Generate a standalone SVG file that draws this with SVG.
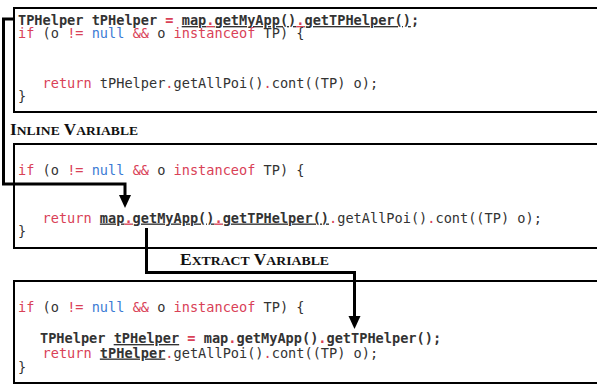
<svg xmlns="http://www.w3.org/2000/svg" width="597" height="385" viewBox="0 0 597 385">
<style>
.code{font-family:"DejaVu Sans Mono",monospace;font-size:13.6px;fill:#333;white-space:pre}
.b{font-weight:bold}
.r{fill:#d94157}
.bl{fill:#3b7bd4}
.u{text-decoration:underline}
.box{fill:#fff;stroke:#000;stroke-width:2}
.lbl{font-family:"Liberation Serif","Times New Roman",serif;font-weight:bold;fill:#111}
.big{font-size:16.5px}
.sm{font-size:13px}
.conn{fill:none;stroke:#000;stroke-width:3}
.head{fill:#000}
</style>
<g id="box1">
<rect class="box" x="14" y="8" width="600" height="104"/>
<text class="code" x="18" y="25" xml:space="preserve"><tspan class="b">TPHelper tPHelper </tspan><tspan class="r b">=</tspan> <tspan class="b u">map</tspan><tspan class="r b u">.</tspan><tspan class="b u">getMyApp()</tspan><tspan class="r b u">.</tspan><tspan class="b u">getTPHelper()</tspan><tspan class="b">;</tspan></text>
<text class="code" x="18" y="38" xml:space="preserve"><tspan class="r">if</tspan> (o <tspan class="r">!=</tspan> <tspan class="bl">null</tspan> <tspan class="r">&amp;&amp;</tspan> o <tspan class="r">instanceof</tspan> TP) {</text>
<text class="code" x="18" y="88" xml:space="preserve">   <tspan class="r">return</tspan> tPHelper<tspan class="r">.</tspan>getAllPoi()<tspan class="r">.</tspan>cont((TP) o);</text>
<text class="code" x="18" y="101" xml:space="preserve">}</text>
</g>
<g id="label-inline">
<text class="lbl" x="10" y="135" textLength="128" lengthAdjust="spacingAndGlyphs"><tspan class="big">I</tspan><tspan class="sm">NLINE</tspan><tspan class="big"> V</tspan><tspan class="sm">ARIABLE</tspan></text>
</g>
<g id="box2">
<rect class="box" x="14" y="144" width="600" height="104"/>
<text class="code" x="18" y="174.5" xml:space="preserve"><tspan class="r">if</tspan> (o <tspan class="r">!=</tspan> <tspan class="bl">null</tspan> <tspan class="r">&amp;&amp;</tspan> o <tspan class="r">instanceof</tspan> TP) {</text>
<text class="code" x="18" y="222.5" xml:space="preserve">   <tspan class="r">return</tspan> <tspan class="b u">map</tspan><tspan class="r b u">.</tspan><tspan class="b u">getMyApp()</tspan><tspan class="r b u">.</tspan><tspan class="b u">getTPHelper()</tspan><tspan class="r">.</tspan>getAllPoi()<tspan class="r">.</tspan>cont((TP) o);</text>
<text class="code" x="18" y="236" xml:space="preserve">}</text>
</g>
<g id="box3">
<rect class="box" x="14" y="281" width="600" height="102"/>
<text class="code" x="18" y="311.5" xml:space="preserve"><tspan class="r">if</tspan> (o <tspan class="r">!=</tspan> <tspan class="bl">null</tspan> <tspan class="r">&amp;&amp;</tspan> o <tspan class="r">instanceof</tspan> TP) {</text>
<text class="code b" x="40" y="343" xml:space="preserve">TPHelper <tspan class="u">tPHelper</tspan> <tspan class="r">=</tspan> map<tspan class="r">.</tspan>getMyApp()<tspan class="r">.</tspan>getTPHelper();</text>
<text class="code" x="18" y="357.5" xml:space="preserve">   <tspan class="r">return</tspan> <tspan class="b u">tPHelper</tspan><tspan class="r">.</tspan>getAllPoi()<tspan class="r">.</tspan>cont((TP) o);</text>
<text class="code" x="18" y="372" xml:space="preserve">}</text>
</g>
<g id="label-extract">
<text class="lbl" x="180" y="265" textLength="149" lengthAdjust="spacingAndGlyphs"><tspan class="big">E</tspan><tspan class="sm">XTRACT</tspan><tspan class="big"> V</tspan><tspan class="sm">ARIABLE</tspan></text>
</g>
<g id="connectors">
<path class="conn" d="M15,19 H3.5 V184 H125 V196"/>
<path class="head" d="M119,195 H131 L125,208 Z"/>
<path class="conn" d="M146.5,228 V272.5 H354.5 V317"/>
<path class="head" d="M348.5,316 H360.5 L354.5,329 Z"/>
</g>
</svg>
